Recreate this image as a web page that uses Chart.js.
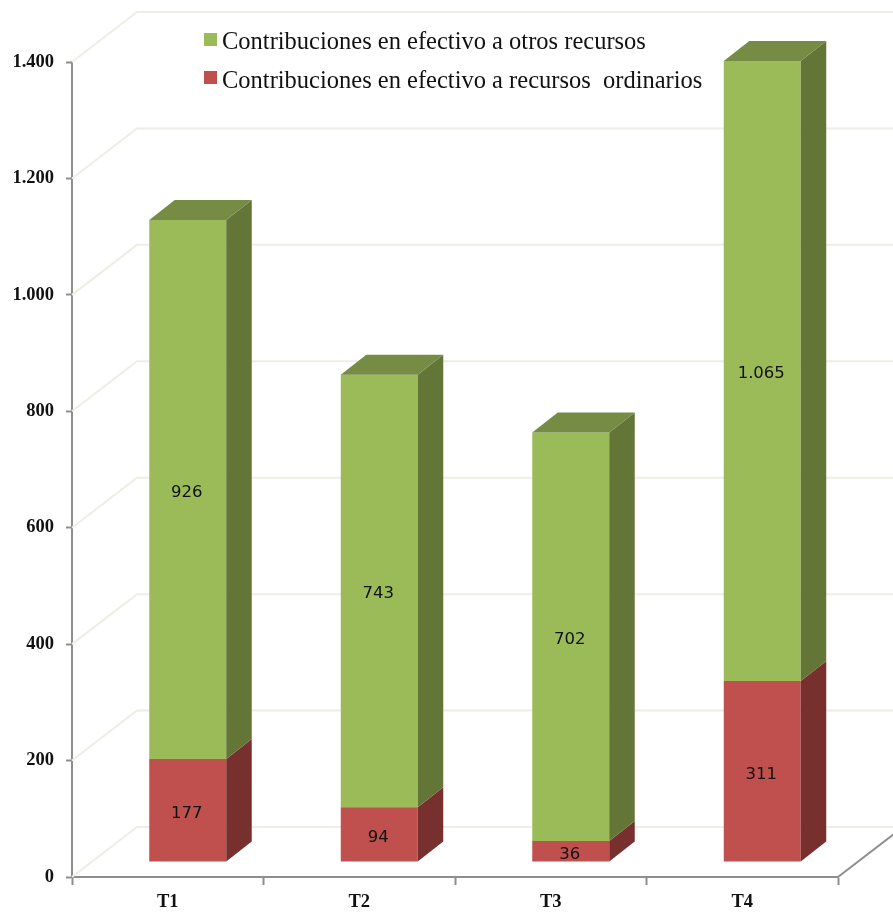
<!DOCTYPE html>
<html>
<head>
<meta charset="utf-8">
<script src="https://cdn.jsdelivr.net/npm/chart.js@4"></script>
<style>
  body { margin: 0; background: #fff; }
</style>
</head>
<body>
<canvas id="contribuciones" width="893" height="915"></canvas>
<script>
const categories = ["T1", "T2", "T3", "T4"];
const recursosOrdinarios = [177, 94, 36, 311];
const otrosRecursos = [926, 743, 702, 1065];
const labelOrdinarios = "Contribuciones en efectivo a recursos  ordinarios";
const labelOtros = "Contribuciones en efectivo a otros recursos";

// fake 3d: how far the back wall sits and where the bars stand on the floor
const wallDepth = { x: 65, y: 50 };
const barShift = { x: 20, y: 15 };
const barDepth = { x: 25.5, y: 20 };

const gridColor = "#eeeee4";
const axisColor = "#8e8e8e";

function formatNumber(v) {
  return String(v).replace(/\B(?=(\d{3})+$)/g, ".");
}

const wallPlugin = {
  id: "wall",
  beforeDatasetsDraw(chart) {
    const ctx = chart.ctx;
    const y = chart.scales.y;
    const area = chart.chartArea;
    ctx.save();
    ctx.strokeStyle = gridColor;
    ctx.lineWidth = 2;
    y.ticks.forEach(t => {
      const py = y.getPixelForValue(t.value);
      ctx.beginPath();
      ctx.moveTo(area.left, py);
      ctx.lineTo(area.left + wallDepth.x, py - wallDepth.y);
      ctx.lineTo(chart.width, py - wallDepth.y);
      ctx.stroke();
    });
    // right edge of the floor
    ctx.strokeStyle = axisColor;
    ctx.beginPath();
    ctx.moveTo(area.right, area.bottom);
    ctx.lineTo(area.right + wallDepth.x, area.bottom - wallDepth.y);
    ctx.stroke();
    ctx.restore();

    // bars are drawn shifted back from the axis plane
    ctx.save();
    ctx.translate(barShift.x, -barShift.y);
  },
  afterDatasetsDraw(chart) {
    const ctx = chart.ctx;
    const last = chart.data.datasets.length - 1;
    chart.data.datasets.forEach((ds, d) => {
      chart.getDatasetMeta(d).data.forEach((bar, i) => {
        const p = bar.getProps(["x", "y", "base", "width"]);
        const r = p.x + p.width / 2;
        const l = p.x - p.width / 2;
        ctx.fillStyle = ds.sideColor;
        ctx.beginPath();
        ctx.moveTo(r, p.y);
        ctx.lineTo(r + barDepth.x, p.y - barDepth.y);
        ctx.lineTo(r + barDepth.x, p.base - barDepth.y);
        ctx.lineTo(r, p.base);
        ctx.closePath();
        ctx.fill();
        if (d === last) {
          ctx.fillStyle = ds.topColor;
          ctx.beginPath();
          ctx.moveTo(l, p.y);
          ctx.lineTo(l + barDepth.x, p.y - barDepth.y);
          ctx.lineTo(r + barDepth.x, p.y - barDepth.y);
          ctx.lineTo(r, p.y);
          ctx.closePath();
          ctx.fill();
        }
        ctx.fillStyle = "#111";
        ctx.font = "16.5px 'DejaVu Sans'";
        ctx.textAlign = "center";
        ctx.textBaseline = "middle";
        ctx.fillText(formatNumber(ds.data[i]), p.x - 1, (p.y + p.base) / 2 + 3);
      });
    });
    ctx.restore();
  },
  afterDraw(chart) {
    // legend sits inside the plot, green first
    const ctx = chart.ctx;
    const rows = [chart.data.datasets[1], chart.data.datasets[0]];
    ctx.save();
    ctx.font = "24.5px 'Liberation Serif'";
    ctx.textAlign = "left";
    ctx.textBaseline = "middle";
    rows.forEach((ds, i) => {
      ctx.fillStyle = ds.backgroundColor;
      ctx.fillRect(204, 33 + i * 38, 13, 13);
      ctx.fillStyle = "#111";
      ctx.fillText(ds.label, 222, 43 + i * 39);
    });
    ctx.restore();
  }
};

new Chart(document.getElementById("contribuciones").getContext("2d"), {
  type: "bar",
  data: {
    labels: categories,
    datasets: [
      {
        label: labelOrdinarios,
        data: recursosOrdinarios,
        backgroundColor: "#c0504d",
        sideColor: "#78302f",
        topColor: "#8f3c3a"
      },
      {
        label: labelOtros,
        data: otrosRecursos,
        backgroundColor: "#9bbb59",
        sideColor: "#637537",
        topColor: "#768c45"
      }
    ]
  },
  options: {
    responsive: false,
    animation: false,
    layout: { padding: { top: 62, right: 55, left: 0, bottom: 0 } },
    datasets: { bar: { barPercentage: 1, categoryPercentage: 0.402, clip: false } },
    plugins: { legend: { display: false }, tooltip: { enabled: false } },
    scales: {
      x: {
        stacked: true,
        afterFit(s) { s.height = 38; },
        border: { color: axisColor, width: 2 },
        grid: { drawOnChartArea: false, color: axisColor, tickLength: 8, tickWidth: 2 },
        ticks: { color: "#111", font: { family: "Liberation Serif", weight: "bold", size: 18.5 }, padding: 6 }
      },
      y: {
        stacked: true,
        min: 0,
        max: 1400,
        afterFit(s) { s.width = 72; },
        border: { color: axisColor, width: 2 },
        grid: { drawOnChartArea: false, color: axisColor, tickLength: 6, tickWidth: 2 },
        ticks: {
          stepSize: 200,
          color: "#111",
          font: { family: "Liberation Serif", weight: "bold", size: 18.5 },
          padding: 12,
          callback: v => formatNumber(v)
        }
      }
    }
  },
  plugins: [wallPlugin]
});
</script>
</body>
</html>
